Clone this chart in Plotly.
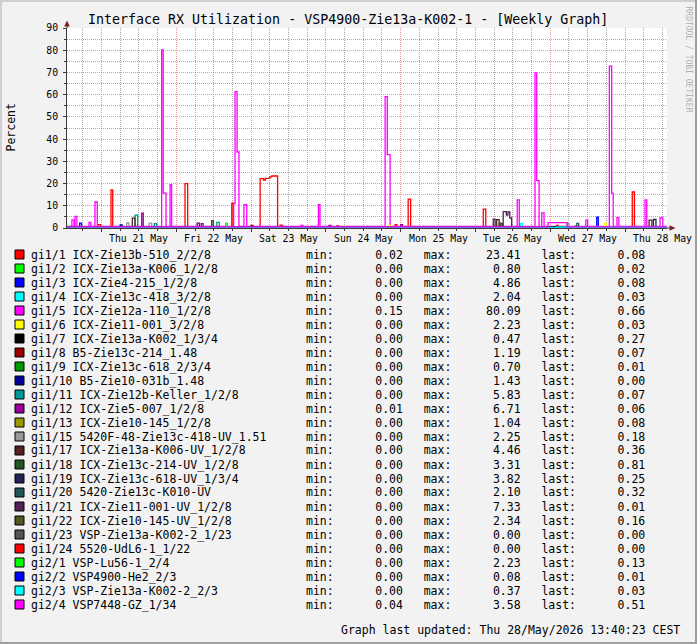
import numpy as np
import pandas as pd
import plotly.graph_objects as go

# ---------------- data ----------------
BASE = pd.Timestamp("2026-05-20 00:00")
X_START_H, X_END_H = 12.93, 205.45   # hours since BASE

day_labels = ["Thu 21 May", "Fri 22 May", "Sat 23 May", "Sun 24 May",
              "Mon 25 May", "Tue 26 May", "Wed 27 May", "Thu 28 May"]
day_label_pos = ["2026-05-21 12:00", "2026-05-22 12:00", "2026-05-23 12:00", "2026-05-24 12:00",
                 "2026-05-25 12:00", "2026-05-26 12:00", "2026-05-27 12:00", "2026-05-28 12:00"]

names = ["gi1/1 ICX-Zie13b-510_2/2/8", "gi1/2 ICX-Zie13a-K006_1/2/8", "gi1/3 ICX-Zie4-215_1/2/8",
         "gi1/4 ICX-Zie13c-418_3/2/8", "gi1/5 ICX-Zie12a-110_1/2/8", "gi1/6 ICX-Zie11-001_3/2/8",
         "gi1/7 ICX-Zie13a-K002_1/3/4", "gi1/8 B5-Zie13c-214_1.48", "gi1/9 ICX-Zie13c-618_2/3/4",
         "gi1/10 B5-Zie10-031b_1.48", "gi1/11 ICX-Zie12b-Keller_1/2/8", "gi1/12 ICX-Zie5-007_1/2/8",
         "gi1/13 ICX-Zie10-145_1/2/8", "gi1/15 5420F-48-Zie13c-418-UV_1.51", "gi1/17 ICX-Zie13a-K006-UV_1/2/8",
         "gi1/18 ICX-Zie13c-214-UV_1/2/8", "gi1/19 ICX-Zie13c-618-UV_1/3/4", "gi1/20 5420-Zie13c-K010-UV",
         "gi1/21 ICX-Zie11-001-UV_1/2/8", "gi1/22 ICX-Zie10-145-UV_1/2/8", "gi1/23 VSP-Zie13a-K002-2_1/23",
         "gi1/24 5520-UdL6-1_1/22", "gi2/1 VSP-Lu56-1_2/4", "gi2/2 VSP4900-He2_2/3",
         "gi2/3 VSP-Zie13a-K002-2_2/3", "gi2/4 VSP7448-GZ_1/34"]

colors = ["#FF0000", "#00FF00", "#0000FF", "#00FFFF", "#FF00FF", "#FFFF00", "#000000", "#990000",
          "#009900", "#000099", "#009999", "#990099", "#999900", "#999999", "#552222", "#225522",
          "#222255", "#225555", "#552255", "#555522", "#555555", "#FF0000", "#00FF00", "#0000FF",
          "#00FFFF", "#FF00FF"]

mins = [0.02, 0.00, 0.00, 0.00, 0.15, 0.00, 0.00, 0.00, 0.00, 0.00, 0.00, 0.01, 0.00,
        0.00, 0.00, 0.00, 0.00, 0.00, 0.00, 0.00, 0.00, 0.00, 0.00, 0.00, 0.00, 0.04]
maxs = [23.41, 0.80, 4.86, 2.04, 80.09, 2.23, 0.47, 1.19, 0.70, 1.43, 5.83, 6.71, 1.04,
        2.25, 4.46, 3.31, 3.82, 2.10, 7.33, 2.34, 0.00, 0.00, 2.23, 0.08, 0.37, 3.58]
lasts = [0.08, 0.02, 0.08, 0.03, 0.66, 0.03, 0.27, 0.07, 0.01, 0.00, 0.07, 0.06, 0.08,
         0.18, 0.36, 0.81, 0.25, 0.32, 0.01, 0.16, 0.00, 0.00, 0.13, 0.01, 0.03, 0.51]

# step change points: hours since BASE, value (%)
t_gi1_1 = [12.93, 22.9, 23.7, 27.05, 27.6, 50.8, 51.65, 65.8, 66.3, 74.9, 76.0, 76.6, 78.0, 78.6, 80.5,
           81.3, 82.0, 99.5, 100.0, 118.2, 118.8, 122.4, 123.2, 146.5, 147.3, 170.0, 170.6, 194.3, 195.0, 205.45]
v_gi1_1 = [0.3, 1.5, 0.3, 17.2, 0.3, 20.0, 0.3, 11.2, 0.3, 22.2, 21.6, 22.3, 23.0, 23.41, 0.3,
           1.3, 0.3, 1.0, 0.3, 1.5, 0.3, 13.0, 0.3, 8.5, 0.3, 1.2, 0.3, 16.2, 0.3, 0.08]
t_gi1_2 = [12.93, 14.0, 15.0, 205.45]
v_gi1_2 = [0.1, 0.8, 0.1, 0.02]
t_gi1_3 = [12.93, 17.0, 17.6, 182.9, 183.4, 205.45]
v_gi1_3 = [0.05, 2.2, 0.05, 4.86, 0.05, 0.08]
t_gi1_4 = [12.93, 158.4, 159.1, 205.45]
v_gi1_4 = [0.05, 2.04, 0.05, 0.03]
t_gi1_5 = [12.93, 14.5, 15.2, 15.5, 16.1, 21.9, 22.65, 43.3, 43.8, 44.7, 46.0, 46.5, 66.4, 66.85, 67.5,
           68.1, 69.7, 70.6, 93.6, 94.1, 115.0, 115.7, 116.6, 157.4, 158.05, 163.1, 163.65, 164.4,
           165.25, 166.0, 186.95, 187.7, 188.2, 189.4, 190.0, 198.4, 198.95, 203.2, 204.1, 205.45]
v_gi1_5 = [0.7, 3.7, 0.7, 5.2, 0.7, 11.7, 0.7, 80.09, 15.7, 0.7, 19.5, 0.7, 11.0, 61.4, 34.2,
           0.7, 10.5, 0.7, 10.5, 0.7, 59.1, 33.0, 0.7, 12.7, 0.7, 69.8, 21.3, 0.7,
           6.8, 0.7, 72.8, 15.7, 0.7, 4.7, 0.7, 12.7, 0.7, 4.5, 0.7, 0.66]
t_gi1_6 = [12.93, 102.0, 102.6, 116.2, 117.0, 185.3, 185.9, 205.45]
v_gi1_6 = [0.05, 0.8, 0.05, 1.2, 0.05, 2.23, 0.05, 0.03]
t_gi1_7 = [12.93, 60.0, 61.0, 205.45]
v_gi1_7 = [0.25, 0.47, 0.25, 0.27]
t_gi1_8 = [12.93, 72.0, 72.6, 205.45]
v_gi1_8 = [0.1, 1.19, 0.1, 0.07]
t_gi1_9 = [12.93, 82.0, 82.6, 205.45]
v_gi1_9 = [0.05, 0.70, 0.05, 0.01]
t_gi1_10 = [12.93, 30.0, 30.6, 205.45]
v_gi1_10 = [0.05, 1.43, 0.05, 0.0]
t_gi1_11 = [12.93, 34.75, 35.6, 40.95, 41.7, 61.0, 61.8, 205.45]
v_gi1_11 = [0.1, 5.83, 0.1, 2.0, 0.1, 2.5, 0.1, 0.07]
t_gi1_12 = [12.93, 36.9, 37.4, 56.0, 56.6, 97.0, 97.6, 120.0, 120.6, 205.45]
v_gi1_12 = [0.1, 6.71, 0.1, 2.0, 0.1, 1.2, 0.1, 1.5, 0.1, 0.06]
t_gi1_13 = [12.93, 176.0, 176.6, 205.45]
v_gi1_13 = [0.1, 1.04, 0.1, 0.08]
t_gi1_15 = [12.93, 32.1, 32.8, 39.3, 40.1, 173.4, 174.0, 205.45]
v_gi1_15 = [0.2, 2.25, 0.2, 2.2, 0.2, 2.0, 0.2, 0.18]
t_gi1_17 = [12.93, 33.9, 34.75, 150.8, 151.6, 199.7, 200.6, 205.45]
v_gi1_17 = [0.4, 4.46, 0.4, 3.8, 0.4, 3.5, 0.4, 0.36]
t_gi1_18 = [12.93, 59.35, 59.9, 152.0, 152.6, 205.45]
v_gi1_18 = [0.6, 3.31, 0.6, 2.0, 0.6, 0.81]
t_gi1_19 = [12.93, 201.1, 201.9, 205.45]
v_gi1_19 = [0.3, 3.82, 0.3, 0.25]
t_gi1_20 = [12.93, 176.5, 177.1, 205.45]
v_gi1_20 = [0.3, 2.10, 0.3, 0.32]
t_gi1_21 = [12.93, 54.7, 55.4, 149.7, 150.3, 152.9, 153.9, 154.4, 155.0, 155.6, 205.45]
v_gi1_21 = [0.05, 2.2, 0.05, 4.0, 0.05, 7.33, 5.8, 7.2, 4.5, 0.05, 0.01]
t_gi1_22 = [12.93, 151.6, 152.2, 205.45]
v_gi1_22 = [0.15, 2.34, 0.15, 0.16]
t_gi1_23 = [12.93, 205.45]
v_gi1_23 = [0.0, 0.0]
t_gi1_24 = [12.93, 205.45]
v_gi1_24 = [0.0, 0.0]
t_gi2_1 = [12.93, 63.85, 64.35, 205.45]
v_gi2_1 = [0.1, 2.23, 0.1, 0.13]
t_gi2_2 = [12.93, 100.0, 100.6, 205.45]
v_gi2_2 = [0.01, 0.08, 0.01, 0.01]
t_gi2_3 = [12.93, 170.0, 205.45]
v_gi2_3 = [0.05, 0.37, 0.03]
t_gi2_4 = [12.93, 20.0, 20.6, 88.0, 88.6, 167.3, 173.4, 179.4, 180.0, 205.45]
v_gi2_4 = [0.5, 2.5, 0.5, 1.2, 0.5, 2.4, 0.5, 3.58, 0.5, 0.51]

series_t = [t_gi1_1, t_gi1_2, t_gi1_3, t_gi1_4, t_gi1_5, t_gi1_6, t_gi1_7, t_gi1_8, t_gi1_9,
            t_gi1_10, t_gi1_11, t_gi1_12, t_gi1_13, t_gi1_15, t_gi1_17, t_gi1_18, t_gi1_19,
            t_gi1_20, t_gi1_21, t_gi1_22, t_gi1_23, t_gi1_24, t_gi2_1, t_gi2_2, t_gi2_3, t_gi2_4]
series_v = [v_gi1_1, v_gi1_2, v_gi1_3, v_gi1_4, v_gi1_5, v_gi1_6, v_gi1_7, v_gi1_8, v_gi1_9,
            v_gi1_10, v_gi1_11, v_gi1_12, v_gi1_13, v_gi1_15, v_gi1_17, v_gi1_18, v_gi1_19,
            v_gi1_20, v_gi1_21, v_gi1_22, v_gi1_23, v_gi1_24, v_gi2_1, v_gi2_2, v_gi2_3, v_gi2_4]

# ---------------- layout constants (pixels) ----------------
W, H = 697, 644
PL, PR, PT, PB = 67, 667, 28, 228        # plot area in px
MONO = "DejaVu Sans Mono"
AXIS_COL = "#3a3a3a"
ARROW_COL = "#801F1F"
GRID_MIN = "rgba(143,143,143,0.75)"
GRID_MAJ = "rgba(222,79,79,0.6)"


def px(x):
    return (x - PL) / (PR - PL)


def py(y):
    return (PB - y) / (PB - PT)


fig = go.Figure()
for name, col, t, v in zip(names, colors, series_t, series_v):
    fig.add_trace(go.Scatter(
        x=BASE + pd.to_timedelta(np.array(t), unit="h"), y=v, mode="lines",
        line=dict(color=col, width=1.3, shape="hv"), name=name,
        showlegend=False, hoverinfo="skip"))

x_range = [BASE + pd.Timedelta(hours=X_START_H), BASE + pd.Timedelta(hours=X_END_H)]

fig.update_layout(
    width=W, height=H,
    margin=dict(l=PL, r=W - PR, t=PT, b=H - PB, pad=0),
    paper_bgcolor="#F2F2F2", plot_bgcolor="#FFFFFF",
    font=dict(family=MONO, size=11.5, color="#000000"),
    showlegend=False,
    xaxis=dict(type="date", range=x_range, showticklabels=False,
               tick0="2026-05-21 00:00", dtick=86400000,
               showgrid=True, gridcolor=GRID_MAJ, griddash="1px,1px", gridwidth=1,
               ticks="outside", ticklen=3, tickcolor=AXIS_COL,
               minor=dict(dtick=21600000, tick0="2026-05-21 00:00", showgrid=True,
                          gridcolor=GRID_MIN, griddash="1px,1px", ticks="outside",
                          ticklen=2, tickcolor=AXIS_COL),
               showline=True, linecolor=AXIS_COL, linewidth=1, zeroline=False,
               fixedrange=True),
    yaxis=dict(range=[0, 90], tick0=0, dtick=10,
               showgrid=True, gridcolor=GRID_MAJ, griddash="1px,1px", gridwidth=1,
               ticks="outside", ticklen=3, tickcolor=AXIS_COL,
               tickfont=dict(family=MONO, size=9.8, color="#000000"),
               ticklabelstandoff=3,
               minor=dict(dtick=5, showgrid=True, gridcolor=GRID_MIN, griddash="1px,1px",
                          ticks="outside", ticklen=2, tickcolor=AXIS_COL),
               showline=True, linecolor=AXIS_COL, linewidth=1, zeroline=False,
               fixedrange=True),
)

ann = []
shapes = []

# day labels (centered at noon)
for lab, pos in zip(day_labels, day_label_pos):
    ann.append(dict(x=pos, xref="x", y=py(238), yref="paper", text=lab, showarrow=False,
                    xanchor="center", yanchor="middle",
                    font=dict(family=MONO, size=9.8, color="#000000")))

# title
ann.append(dict(x=px(348), y=py(19), xref="paper", yref="paper", showarrow=False,
                text="Interface RX Utilization - VSP4900-Zie13a-K002-1 - [Weekly Graph]",
                xanchor="center", yanchor="middle", font=dict(family=MONO, size=13.3, color="#000000")))
# y title
ann.append(dict(x=px(10.5), y=py(128), xref="paper", yref="paper", showarrow=False,
                text="Percent", textangle=-90, xanchor="center", yanchor="middle",
                font=dict(family=MONO, size=11.5, color="#000000")))
# watermark
ann.append(dict(x=px(688.5), y=py(59), xref="paper", yref="paper", showarrow=False,
                text="RRDTOOL / TOBI OETIKER", textangle=90, xanchor="center", yanchor="middle",
                font=dict(family=MONO, size=8, color="rgba(0,0,0,0.33)")))
# footer
ann.append(dict(x=px(682), y=py(630), xref="paper", yref="paper", showarrow=False,
                text="Graph last updated: Thu 28/May/2026 13:40:23 CEST",
                xanchor="right", yanchor="middle", font=dict(family=MONO, size=11.5, color="#000000")))

NB = "\u00a0"
for i, (name, col, mn, mx, ls) in enumerate(zip(names, colors, mins, maxs, lasts)):
    yc = 254.5 + 14 * i
    shapes.append(dict(type="rect", xref="paper", yref="paper",
                       x0=px(15), x1=px(24), y0=py(yc + 4.5), y1=py(yc - 4.5),
                       fillcolor=col, line=dict(color="#000000", width=1)))
    ann.append(dict(x=px(29), y=py(yc), xref="paper", yref="paper", showarrow=False,
                    text=name.replace(" ", NB), xanchor="left", yanchor="middle",
                    font=dict(family=MONO, size=11.5, color="#000000")))
    stats = ("min:" + f"{mn:10.2f}" + "   max:" + f"{mx:10.2f}" + "   last:" + f"{ls:10.2f}")
    ann.append(dict(x=px(304), y=py(yc), xref="paper", yref="paper", showarrow=False,
                    text=stats.replace(" ", NB), xanchor="left", yanchor="middle",
                    font=dict(family=MONO, size=11.5, color="#000000")))

# axis extensions and arrows
shapes.append(dict(type="line", xref="paper", yref="paper", x0=px(67), x1=px(67),
                   y0=py(28), y1=py(24), line=dict(color=AXIS_COL, width=1)))
shapes.append(dict(type="path", xref="paper", yref="paper",
                   path=f"M {px(64.2)},{py(26.5)} L {px(69.8)},{py(26.5)} L {px(67)},{py(20.5)} Z",
                   fillcolor=ARROW_COL, line=dict(color=ARROW_COL, width=0)))
shapes.append(dict(type="line", xref="paper", yref="paper", x0=px(667), x1=px(671),
                   y0=py(228), y1=py(228), line=dict(color=AXIS_COL, width=1)))
shapes.append(dict(type="path", xref="paper", yref="paper",
                   path=f"M {px(669.5)},{py(225.2)} L {px(669.5)},{py(230.8)} L {px(675.5)},{py(228)} Z",
                   fillcolor=ARROW_COL, line=dict(color=ARROW_COL, width=0)))

# image frame (rrdtool style shading)
shapes.append(dict(type="rect", xref="paper", yref="paper", x0=px(0), x1=px(697), y0=py(2), y1=py(0),
                   fillcolor="#CFCFCF", line=dict(width=0)))
shapes.append(dict(type="rect", xref="paper", yref="paper", x0=px(0), x1=px(2), y0=py(644), y1=py(0),
                   fillcolor="#CFCFCF", line=dict(width=0)))
shapes.append(dict(type="rect", xref="paper", yref="paper", x0=px(695), x1=px(697), y0=py(644), y1=py(0),
                   fillcolor="#9E9E9E", line=dict(width=0)))
shapes.append(dict(type="rect", xref="paper", yref="paper", x0=px(0), x1=px(697), y0=py(644), y1=py(642),
                   fillcolor="#9E9E9E", line=dict(width=0)))

fig.update_layout(annotations=ann, shapes=shapes)
fig.write_html("out.html")
